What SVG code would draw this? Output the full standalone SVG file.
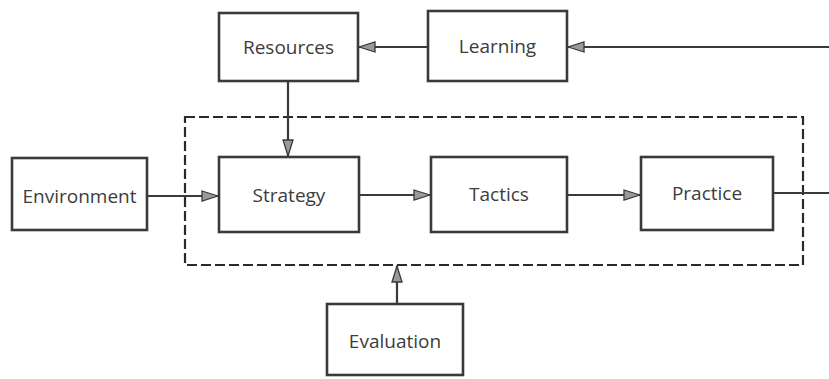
<svg xmlns="http://www.w3.org/2000/svg" width="829" height="379" viewBox="0 0 829 379">
<style>
.box{fill:#fff;stroke:#3a3a3a;stroke-width:2.6}
.lbl{font-family:"Open Sans","Liberation Sans",sans-serif;font-size:19px;fill:#3c3c3c;text-anchor:middle;dominant-baseline:central}
.ln{stroke:#3a3a3a;stroke-width:2.2;fill:none}
.dash{stroke:#2a2a2a;stroke-width:2.2;fill:none;stroke-dasharray:10 4}
</style>
<defs>
<marker id="ah" viewBox="0 0 18 12" refX="17" refY="6" markerWidth="18" markerHeight="12" markerUnits="userSpaceOnUse" orient="auto">
<path d="M1,1 L17,6 L1,11 Z" fill="#9a9a9a" stroke="#3a3a3a" stroke-width="1.3"/>
</marker>
</defs>
<rect id="boundary" class="dash" x="185" y="117" width="618" height="148"/>
<g id="connectors">
<line class="ln" x1="428" y1="47" x2="359" y2="47" marker-end="url(#ah)"/>
<line class="ln" x1="829" y1="47" x2="568" y2="47" marker-end="url(#ah)"/>
<line class="ln" x1="288" y1="81" x2="288" y2="156" marker-end="url(#ah)"/>
<line class="ln" x1="147" y1="196" x2="218" y2="196" marker-end="url(#ah)"/>
<line class="ln" x1="359" y1="195" x2="430" y2="195" marker-end="url(#ah)"/>
<line class="ln" x1="567" y1="195" x2="640" y2="195" marker-end="url(#ah)"/>
<line class="ln" x1="773" y1="193" x2="829" y2="193"/>
<line class="ln" x1="397" y1="304" x2="397" y2="266" marker-end="url(#ah)"/>
</g>
<g id="resources"><rect class="box" x="219" y="13" width="139" height="68"/><text class="lbl" x="288.5" y="47">Resources</text></g>
<g id="learning"><rect class="box" x="428" y="11" width="139" height="70"/><text class="lbl" x="497.5" y="46">Learning</text></g>
<g id="environment"><rect class="box" x="12" y="158" width="135" height="72"/><text class="lbl" x="79.5" y="196">Environment</text></g>
<g id="strategy"><rect class="box" x="219" y="157" width="140" height="75"/><text class="lbl" x="289" y="195">Strategy</text></g>
<g id="tactics"><rect class="box" x="431" y="157" width="136" height="75"/><text class="lbl" x="499" y="194">Tactics</text></g>
<g id="practice"><rect class="box" x="641" y="157" width="132" height="73"/><text class="lbl" x="707" y="193">Practice</text></g>
<g id="evaluation"><rect class="box" x="327" y="304" width="136" height="71"/><text class="lbl" x="395" y="341">Evaluation</text></g>
</svg>
